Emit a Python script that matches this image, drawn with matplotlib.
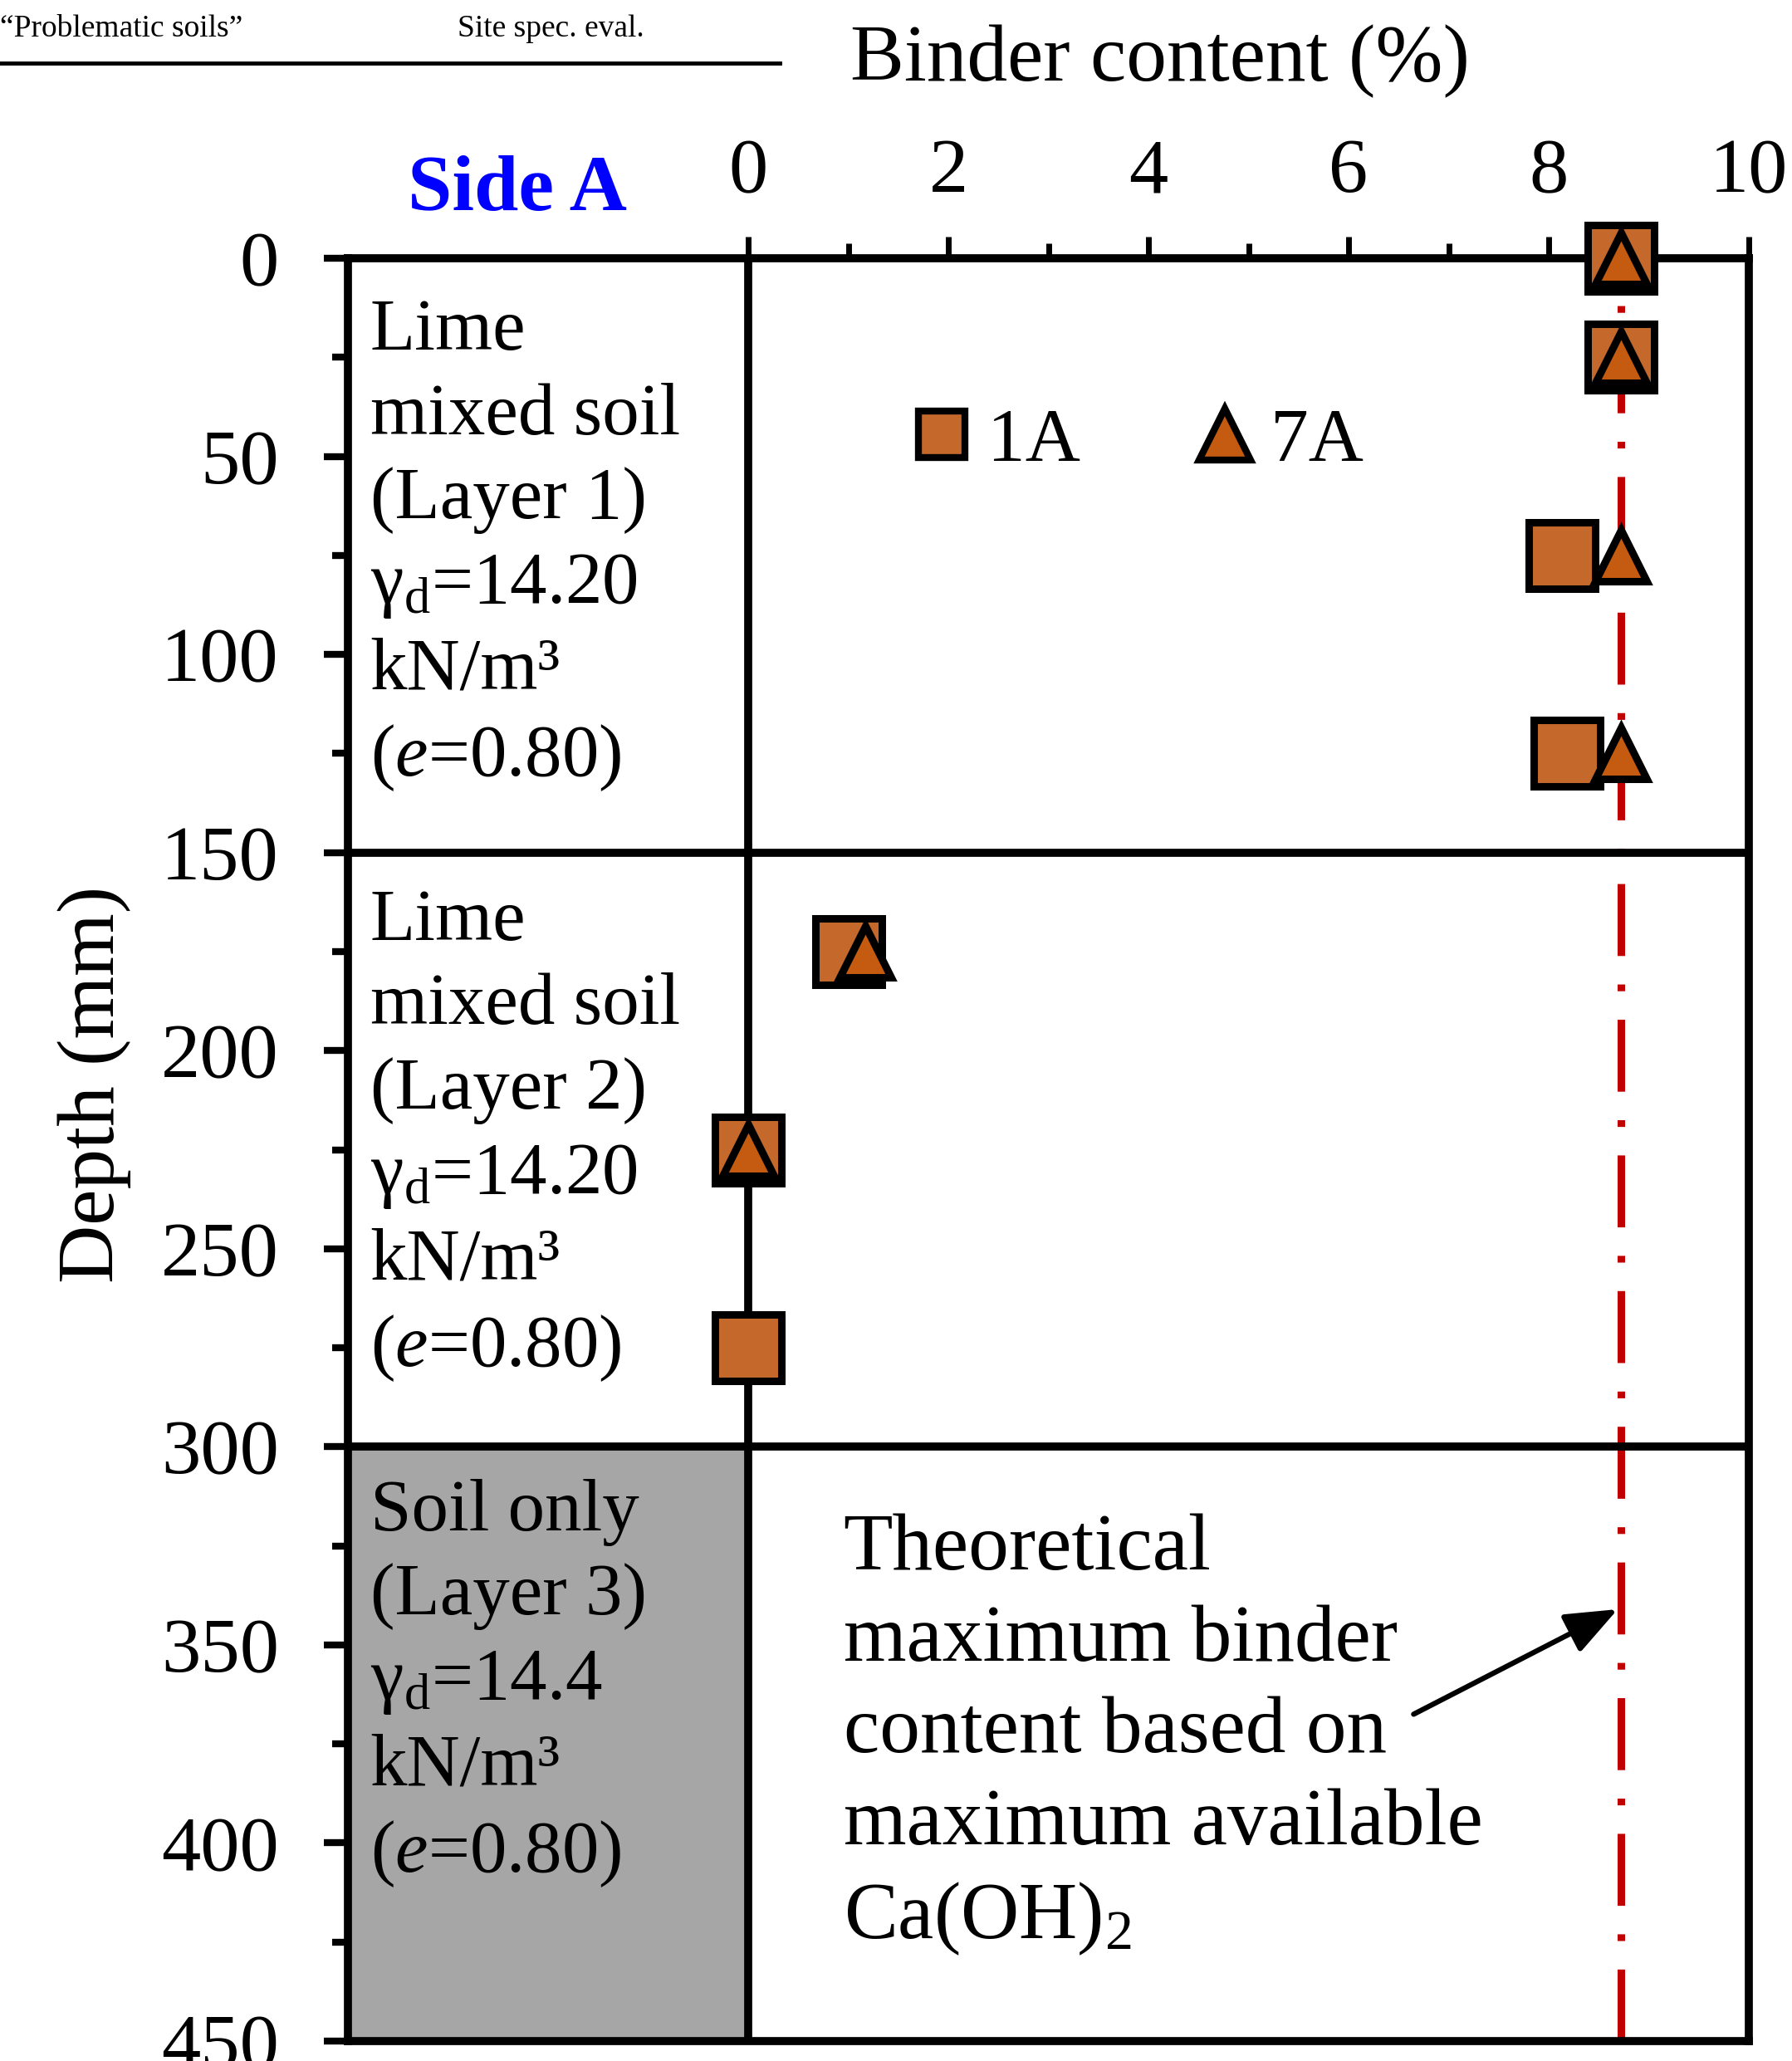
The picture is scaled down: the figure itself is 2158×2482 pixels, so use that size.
import matplotlib
matplotlib.use("Agg")
import matplotlib.pyplot as plt
from matplotlib.lines import Line2D

plt.rcParams['font.family'] = ['Liberation Serif', 'DejaVu Serif']
plt.rcParams['mathtext.fontset'] = 'custom'
plt.rcParams['mathtext.rm'] = 'Liberation Serif'
plt.rcParams['mathtext.it'] = 'Liberation Serif:italic'
plt.rcParams['mathtext.bf'] = 'Liberation Serif:bold'

# ---------------- data ----------------
depth_1A = [0, 25, 75, 125, 175, 225, 275]
binder_1A = [8.72, 8.72, 8.13, 8.18, 1.0, 0.0, 0.0]
depth_7A = [0, 25, 75, 125, 175, 225]
binder_7A = [8.72, 8.72, 8.72, 8.72, 1.17, 0.0]

theoretical_max = 8.72
layer_bounds = [150, 300]
soil_only_range = [300, 450]

x_major_ticks = [0, 2, 4, 6, 8, 10]
x_minor_ticks = [1, 3, 5, 7, 9]
y_major_ticks = [0, 50, 100, 150, 200, 250, 300, 350, 400, 450]
y_minor_ticks = [25, 75, 125, 175, 225, 275, 325, 375, 425]

layer_texts = [
    "Lime\nmixed soil\n(Layer 1)\nγ$_{\\rm d}$=14.20\nkN/m³\n($e$=0.80)",
    "Lime\nmixed soil\n(Layer 2)\nγ$_{\\rm d}$=14.20\nkN/m³\n($e$=0.80)",
    "Soil only\n(Layer 3)\nγ$_{\\rm d}$=14.4\nkN/m³\n($e$=0.80)",
]
layer_text_tops = [10, 159, 308]

note_text = "Theoretical\nmaximum binder\ncontent based on\nmaximum available\nCa(OH)$_2$"

# ---------------- style ----------------
sq_face = '#C4692B'
tri_face = '#C55A11'
red = '#C00000'
gray = '#A6A6A6'
LW = 7

fig = plt.figure(figsize=(21.58, 24.82), dpi=100)
ax = fig.add_axes([0.1942, 0.00967, 0.7817, 0.8650])

ax.set_xlim(-4, 10)
ax.set_ylim(450, 0)

for s in ax.spines.values():
    s.set_linewidth(LW)

ax.xaxis.tick_top()
ax.set_xticks(x_major_ticks)
ax.set_xticks(x_minor_ticks, minor=True)
ax.set_yticks(y_major_ticks)
ax.set_yticks(y_minor_ticks, minor=True)
ax.tick_params(axis='x', which='major', direction='out', length=19, width=5,
               labelsize=68, pad=24, top=True, bottom=False)
ax.tick_params(axis='x', which='minor', direction='out', length=13, width=5,
               top=True, bottom=False)
ax.tick_params(axis='y', which='major', direction='out', length=21, width=6,
               labelsize=68, pad=39, left=True, right=False)
ax.tick_params(axis='y', which='minor', direction='out', length=14, width=6,
               left=True, right=False)

# gray soil-only region
ax.fill_betweenx(soil_only_range, -4, 0, color=gray, zorder=0, lw=0)

# layer boundaries and zero line
for b in layer_bounds:
    ax.axhline(b, color='black', lw=LW, zorder=2)
ax.axvline(0, color='black', lw=LW, zorder=2)

# theoretical max line
ax.axvline(theoretical_max, color=red, lw=6.5, zorder=1,
           linestyle=(0, (9.6, 3.8, 0.9, 3.8)), dash_capstyle='butt')

# data
ax.plot(binder_1A, depth_1A, ls='none', marker='s', ms=57, mfc=sq_face,
        mec='black', mew=6.5, zorder=5, clip_on=False)
ax.plot(binder_7A, depth_7A, ls='none', marker='^', ms=45, mfc=tri_face,
        mec='black', mew=6.5, zorder=6, clip_on=False)

# layer labels
for t, ytop in zip(layer_texts, layer_text_tops):
    ax.text(-3.78, ytop, t, fontsize=64, va='top', ha='left',
            linespacing=1.335, zorder=4)

# annotation
ax.text(0.95, 316.7, note_text, fontsize=70, va='top', ha='left',
        linespacing=1.325, zorder=4)
ax.annotate('', xy=(8.69, 341), xytext=(6.65, 367.5),
            arrowprops=dict(arrowstyle='-|>,head_length=0.55,head_width=0.22',
                            lw=4.5, color='black', mutation_scale=70,
                            shrinkA=0, shrinkB=0), zorder=7)

# legend
h1 = Line2D([], [], ls='none', marker='s', ms=40, mfc=sq_face, mec='black', mew=6)
h2 = Line2D([], [], ls='none', marker='^', ms=44, mfc=tri_face, mec='black', mew=6)
leg = ax.legend([h1, h2], ['1A', '7A'], ncol=2, frameon=False, fontsize=66,
                loc='center left', bbox_to_anchor=(0.3966, 0.897),
                handlelength=1.0, handletextpad=0.1, columnspacing=1.4,
                borderpad=0, borderaxespad=0)

# axis labels / titles
fig.text(1397 / 2158, 1 - 74 / 2482, 'Binder content (%)', fontsize=70,
         ha='center', va='center')
fig.text(491 / 2158, 1 - 253 / 2482, 'Side A', fontsize=69, fontweight='bold',
         color='#0000FF', ha='left', va='baseline')
fig.text(114 / 2158, 1 - 1306 / 2482, 'Depth (mm)', fontsize=70, rotation=90,
         ha='center', va='center')

# header
fig.text(0 / 2158, 1 - 35 / 2482, '“Problematic soils”', fontsize=27,
         ha='left', va='center')
fig.text(551 / 2158, 1 - 35 / 2482, 'Site spec. eval.', fontsize=27,
         ha='left', va='center')
fig.add_artist(Line2D([0, 939 / 2158], [1 - 76 / 2482, 1 - 76 / 2482],
                      color='black', lw=3.5, transform=fig.transFigure))

fig.savefig('out.png', dpi=100)
